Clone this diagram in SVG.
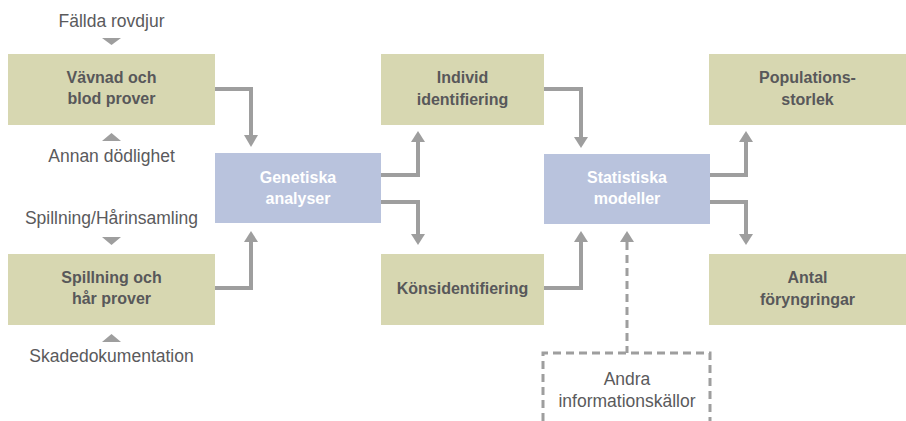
<svg xmlns="http://www.w3.org/2000/svg" width="906" height="421" viewBox="0 0 906 421">
<style>
.olive{fill:#d7d7b1}
.blue{fill:#b9c3dd}
.lbl{font-family:"Liberation Sans",Arial,sans-serif;font-size:16px;font-weight:bold;text-anchor:middle;fill:#58585a}
.wlbl{font-family:"Liberation Sans",Arial,sans-serif;font-size:16px;font-weight:bold;text-anchor:middle;fill:#ffffff}
.note{font-family:"Liberation Sans",Arial,sans-serif;font-size:17.5px;text-anchor:middle;fill:#5a5a5c}
.ln{fill:none;stroke:#9e9e9e;stroke-width:4}
.dash{fill:none;stroke:#9e9e9e;stroke-width:3;stroke-dasharray:8,5}
.ah{fill:#9e9e9e}
</style>
<rect width="906" height="421" fill="#ffffff"/>
<g id="connectors">
<path class="ln" d="M215,89 H251 V136"/>
<polygon class="ah" points="244,135 258,135 251,147"/>
<path class="ln" d="M215,288 H251 V241"/>
<polygon class="ah" points="244,242 258,242 251,231"/>
<path class="ln" d="M381,175 H418 V141"/>
<polygon class="ah" points="411,142 425,142 418,131"/>
<path class="ln" d="M381,202 H418 V235"/>
<polygon class="ah" points="411,234 425,234 418,245"/>
<path class="ln" d="M544,89 H581 V138"/>
<polygon class="ah" points="574,137 588,137 581,148"/>
<path class="ln" d="M544,288 H581 V241"/>
<polygon class="ah" points="574,242 588,242 581,231"/>
<path class="dash" d="M627,242 V353"/>
<polygon class="ah" points="620,242 634,242 627,231"/>
<path class="ln" d="M710,175 H746 V141"/>
<polygon class="ah" points="739,142 753,142 746,131"/>
<path class="ln" d="M710,202 H746 V235"/>
<polygon class="ah" points="739,234 753,234 746,245"/>
<polygon class="ah" points="102,38 121,38 111.5,45"/>
<polygon class="ah" points="102,141 121,141 111.5,133"/>
<polygon class="ah" points="102,237 121,237 111.5,245"/>
<polygon class="ah" points="102,342 121,342 111.5,334"/>
</g>
<g id="label-fallda"><text class="note" x="111.5" y="27">Fällda rovdjur</text></g>
<g id="label-annan"><text class="note" x="111.5" y="162">Annan dödlighet</text></g>
<g id="label-spillning"><text class="note" x="111.5" y="224">Spillning/Hårinsamling</text></g>
<g id="label-skade"><text class="note" x="111.5" y="362">Skadedokumentation</text></g>
<g id="node-vavnad"><rect class="olive" x="8" y="54" width="207" height="71"/><text class="lbl" x="111.5" y="83">Vävnad och</text><text class="lbl" x="111.5" y="104">blod prover</text></g>
<g id="node-spillning"><rect class="olive" x="8" y="254" width="207" height="71"/><text class="lbl" x="111.5" y="283">Spillning och</text><text class="lbl" x="111.5" y="304">hår prover</text></g>
<g id="node-genetiska"><rect class="blue" x="215" y="153" width="166" height="70"/><text class="wlbl" x="298" y="183">Genetiska</text><text class="wlbl" x="298" y="204">analyser</text></g>
<g id="node-individ"><rect class="olive" x="381" y="54" width="163" height="71"/><text class="lbl" x="462.5" y="83">Individ</text><text class="lbl" x="462.5" y="105">identifiering</text></g>
<g id="node-kon"><rect class="olive" x="381" y="254" width="163" height="71"/><text class="lbl" x="462.5" y="294">Könsidentifiering</text></g>
<g id="node-statistiska"><rect class="blue" x="544" y="154" width="166" height="70"/><text class="wlbl" x="627" y="183">Statistiska</text><text class="wlbl" x="627" y="204">modeller</text></g>
<g id="node-andra"><path class="dash" d="M543,421 V353 H710 V421"/><text class="note" x="627" y="385">Andra</text><text class="note" x="627" y="407">informationskällor</text></g>
<g id="node-populations"><rect class="olive" x="709" y="54" width="197" height="71"/><text class="lbl" x="807.5" y="83">Populations-</text><text class="lbl" x="807.5" y="105">storlek</text></g>
<g id="node-antal"><rect class="olive" x="709" y="254" width="197" height="71"/><text class="lbl" x="807.5" y="283">Antal</text><text class="lbl" x="807.5" y="305">föryngringar</text></g>
</svg>
